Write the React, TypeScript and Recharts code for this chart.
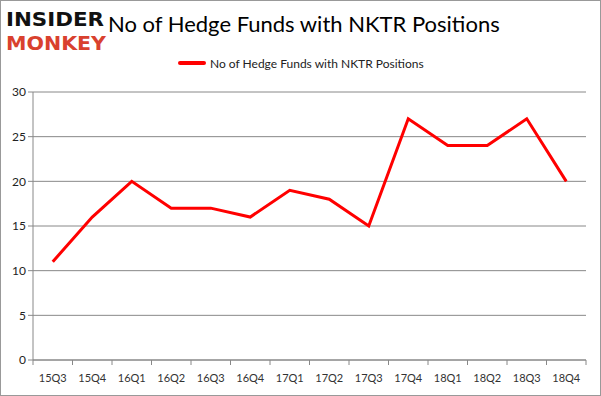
import React from 'react';
import { LineChart, Line, XAxis, YAxis, CartesianGrid } from 'recharts';

const quarters = ['15Q3', '15Q4', '16Q1', '16Q2', '16Q3', '16Q4', '17Q1', '17Q2', '17Q3', '17Q4', '18Q1', '18Q2', '18Q3', '18Q4'];
const funds = [11, 16, 20, 17, 17, 16, 19, 18, 15, 27, 24, 24, 27, 20];
const yTicks = [0, 5, 10, 15, 20, 25, 30];

const seriesName = 'No of Hedge Funds with NKTR Positions';
const data = quarters.map((q, i) => ({ q, funds: funds[i] }));

const W = 601;
const H = 396;
const margin = { top: 92, right: 15, left: 0, bottom: 0 };
const yAxisWidth = 33;
const band = (W - margin.left - margin.right - yAxisWidth) / quarters.length;
const font = "Lato, 'Open Sans', sans-serif";
const logoFont = "'Liberation Sans Narrow', 'DejaVu Sans Condensed', sans-serif";

const XTick = (props: any) => {
  const { x, y, payload, index } = props;
  const last = index === quarters.length - 1;
  return (
    <g>
      <line x1={x - band / 2} y1={y - 8} x2={x - band / 2} y2={y - 3} stroke="#888" />
      {last && <line x1={x + band / 2} y1={y - 8} x2={x + band / 2} y2={y - 3} stroke="#888" />}
      <text x={x} y={y + 14} textAnchor="middle" fontSize={11} fill="#333" fontFamily={font}>
        {payload.value}
      </text>
    </g>
  );
};

export default function App() {
  return (
    <div style={{ position: 'absolute', left: 0, top: 0, width: W, height: H, background: '#fff', boxSizing: 'border-box', border: '1px solid #999' }}>
      <svg style={{ position: 'absolute', left: 3, top: 0 }} width={104} height={56}>
        <text x={2} y={25} textLength={98} lengthAdjust="spacingAndGlyphs" fontFamily={logoFont} fontWeight={700} fontSize={20} fill="#111">INSIDER</text>
        <text x={2} y={49} textLength={100} lengthAdjust="spacingAndGlyphs" fontFamily={logoFont} fontWeight={700} fontSize={20} fill="#d9412e">MONKEY</text>
      </svg>
      <div style={{ position: 'absolute', left: 107, top: 9, fontFamily: font, fontSize: 22, color: '#000' }}>
        {seriesName}
      </div>
      <div style={{ position: 'absolute', left: 177, top: 54, display: 'flex', alignItems: 'center', fontFamily: font, fontSize: 12, color: '#222', height: 16 }}>
        <span style={{ display: 'inline-block', width: 28, height: 4, background: '#ff0000', borderRadius: 2, marginRight: 4 }} />
        {seriesName}
      </div>
      <div style={{ position: 'absolute', left: -1, top: -1 }}>
        <LineChart width={W} height={H} data={data} margin={margin}>
          <CartesianGrid vertical={false} stroke="#888" />
          <XAxis
            dataKey="q"
            height={36}
            stroke="#888"
            tickLine={false}
            tick={<XTick />}
            interval={0}
            padding={{ left: band / 2, right: band / 2 }}
          />
          <YAxis
            width={yAxisWidth}
            domain={[0, 30]}
            ticks={yTicks}
            stroke="#888"
            tickSize={5}
            tick={{ fontSize: 12, fill: '#222', fontFamily: font }}
          />
          <Line
            type="linear"
            dataKey="funds"
            name={seriesName}
            stroke="#ff0000"
            strokeWidth={3}
            dot={false}
            isAnimationActive={false}
          />
        </LineChart>
      </div>
    </div>
  );
}
